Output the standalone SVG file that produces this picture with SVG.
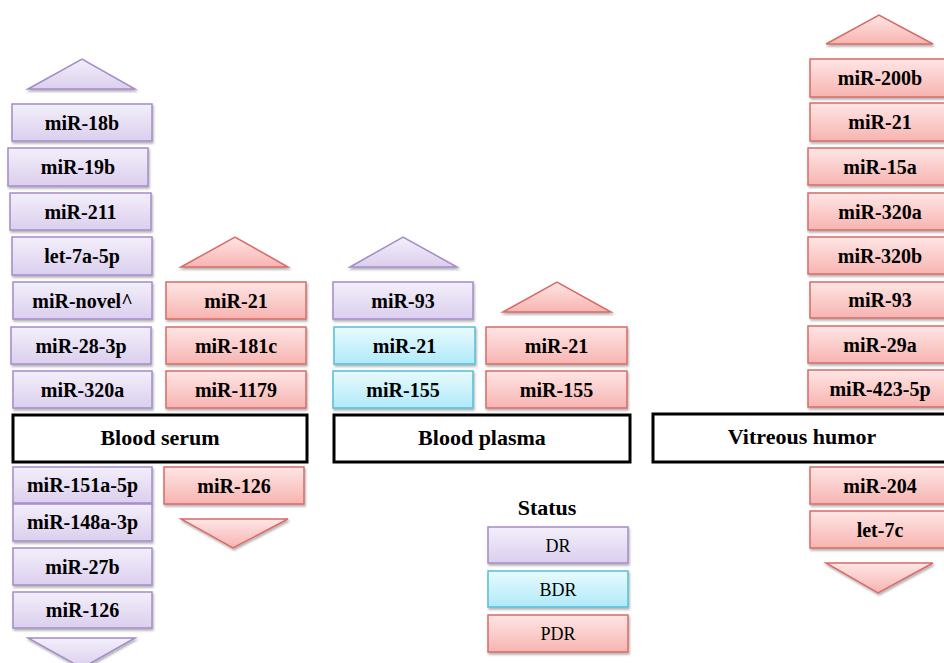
<svg xmlns="http://www.w3.org/2000/svg" width="944" height="663" viewBox="0 0 944 663">
<defs>
<linearGradient id="gP" x1="0" y1="0" x2="0" y2="1"><stop offset="0" stop-color="#f3effa"/><stop offset="1" stop-color="#dbcfee"/></linearGradient>
<linearGradient id="gR" x1="0" y1="0" x2="0" y2="1"><stop offset="0" stop-color="#fee6e5"/><stop offset="1" stop-color="#f7b4b1"/></linearGradient>
<linearGradient id="gC" x1="0" y1="0" x2="0" y2="1"><stop offset="0" stop-color="#e8fafe"/><stop offset="1" stop-color="#b0eaf9"/></linearGradient>
<filter id="sh" x="-10%" y="-20%" width="130%" height="160%"><feDropShadow dx="1" dy="2" stdDeviation="1.2" flood-color="#000" flood-opacity="0.3"/></filter>
</defs>
<style>
.p{fill:url(#gP);stroke:#a48bc9;stroke-width:1.5;filter:url(#sh)}
.r{fill:url(#gR);stroke:#d96b66;stroke-width:1.5;filter:url(#sh)}
.c{fill:url(#gC);stroke:#55bed8;stroke-width:1.5;filter:url(#sh)}
.b{fill:#fff;stroke:#000;stroke-width:3}
.t{font-family:"Liberation Serif","Times New Roman",serif;font-weight:bold;font-size:20px;text-anchor:middle;fill:#000}
.h{font-family:"Liberation Serif","Times New Roman",serif;font-weight:bold;font-size:22px;text-anchor:middle;fill:#000}
.l{font-family:"Liberation Serif","Times New Roman",serif;font-size:18px;text-anchor:middle;fill:#000}
</style>
<rect width="944" height="663" fill="#fff"/>
<g id="connectors"/>

<!-- Blood serum DR up -->
<g id="serum-dr-up"><polygon class="p" points="28,89 82,59 135,89"/></g>
<g id="s-mir18b"><rect class="p" x="12" y="104" width="140" height="37"/><text class="t" x="82" y="130">miR-18b</text></g>
<g id="s-mir19b"><rect class="p" x="8" y="148" width="140" height="38"/><text class="t" x="78" y="174">miR-19b</text></g>
<g id="s-mir211"><rect class="p" x="10" y="193" width="141" height="37"/><text class="t" x="80.5" y="219">miR-211</text></g>
<g id="s-let7a5p"><rect class="p" x="12" y="237" width="140" height="38"/><text class="t" x="82" y="263">let-7a-5p</text></g>
<g id="s-mirnovel"><rect class="p" x="13" y="282" width="139" height="37"/><text class="t" x="82.5" y="308">miR-novel^</text></g>
<g id="s-mir283p"><rect class="p" x="11" y="327" width="140" height="37"/><text class="t" x="81" y="353">miR-28-3p</text></g>
<g id="s-mir320a"><rect class="p" x="13" y="371" width="139" height="37"/><text class="t" x="82.5" y="397">miR-320a</text></g>

<!-- Blood serum PDR up -->
<g id="serum-pdr-up"><polygon class="r" points="181,267 235,237 288,267"/></g>
<g id="s-mir21"><rect class="r" x="166" y="282" width="140" height="37"/><text class="t" x="236" y="308">miR-21</text></g>
<g id="s-mir181c"><rect class="r" x="166" y="327" width="140" height="37"/><text class="t" x="236" y="353">miR-181c</text></g>
<g id="s-mir1179"><rect class="r" x="166" y="371" width="140" height="37"/><text class="t" x="236" y="397">miR-1179</text></g>

<g id="blood-serum"><rect class="b" x="13" y="415" width="294" height="47"/><text class="h" x="160" y="445">Blood serum</text></g>

<!-- Blood serum DR down -->
<g id="s-mir151a5p"><rect class="p" x="13" y="467" width="139" height="36"/><text class="t" x="82.5" y="492">miR-151a-5p</text></g>
<g id="s-mir148a3p"><rect class="p" x="13" y="504" width="139" height="37"/><text class="t" x="82.5" y="529">miR-148a-3p</text></g>
<g id="s-mir27b"><rect class="p" x="13" y="548" width="139" height="37"/><text class="t" x="82.5" y="574">miR-27b</text></g>
<g id="s-mir126"><rect class="p" x="13" y="592" width="139" height="36"/><text class="t" x="82.5" y="617">miR-126</text></g>
<g id="serum-dr-down"><polygon class="p" points="28,638 135,638 82,668"/></g>

<!-- Blood serum PDR down -->
<g id="s-mir126-pdr"><rect class="r" x="164" y="467" width="140" height="37"/><text class="t" x="234" y="493">miR-126</text></g>
<g id="serum-pdr-down"><polygon class="r" points="181,519 288,519 233,548"/></g>

<!-- Blood plasma -->
<g id="plasma-dr-up"><polygon class="p" points="350,267 403,237 457,267"/></g>
<g id="p-mir93"><rect class="p" x="333" y="282" width="140" height="37"/><text class="t" x="403" y="308">miR-93</text></g>
<g id="p-mir21-bdr"><rect class="c" x="334" y="327" width="141" height="37"/><text class="t" x="404.5" y="353">miR-21</text></g>
<g id="p-mir155-bdr"><rect class="c" x="333" y="371" width="140" height="37"/><text class="t" x="403" y="397">miR-155</text></g>
<g id="plasma-pdr-up"><polygon class="r" points="503,312 557,282 611,312"/></g>
<g id="p-mir21-pdr"><rect class="r" x="486" y="327" width="141" height="37"/><text class="t" x="556.5" y="353">miR-21</text></g>
<g id="p-mir155-pdr"><rect class="r" x="486" y="371" width="141" height="37"/><text class="t" x="556.5" y="397">miR-155</text></g>
<g id="blood-plasma"><rect class="b" x="334" y="415" width="296" height="47"/><text class="h" x="482" y="445">Blood plasma</text></g>

<!-- Legend -->
<g id="legend">
<text class="h" x="547" y="515">Status</text>
<g id="legend-dr"><rect class="p" x="488" y="527" width="140" height="36"/><text class="l" x="558" y="552">DR</text></g>
<g id="legend-bdr"><rect class="c" x="488" y="571" width="140" height="36"/><text class="l" x="558" y="596">BDR</text></g>
<g id="legend-pdr"><rect class="r" x="488" y="615" width="140" height="37"/><text class="l" x="558" y="640">PDR</text></g>
</g>

<!-- Vitreous humor -->
<g id="vitreous-pdr-up"><polygon class="r" points="826,44 879,15 933,44"/></g>
<g id="v-mir200b"><rect class="r" x="810" y="59" width="141" height="38"/><text class="t" x="880" y="85">miR-200b</text></g>
<g id="v-mir21"><rect class="r" x="810" y="103" width="141" height="38"/><text class="t" x="880" y="129">miR-21</text></g>
<g id="v-mir15a"><rect class="r" x="808" y="148" width="142" height="37"/><text class="t" x="880" y="174">miR-15a</text></g>
<g id="v-mir320a"><rect class="r" x="808" y="193" width="142" height="37"/><text class="t" x="880" y="219">miR-320a</text></g>
<g id="v-mir320b"><rect class="r" x="808" y="237" width="142" height="37"/><text class="t" x="880" y="263">miR-320b</text></g>
<g id="v-mir93"><rect class="r" x="810" y="282" width="141" height="36"/><text class="t" x="880" y="307">miR-93</text></g>
<g id="v-mir29a"><rect class="r" x="808" y="326" width="142" height="37"/><text class="t" x="880" y="352">miR-29a</text></g>
<g id="v-mir4235p"><rect class="r" x="808" y="370" width="142" height="37"/><text class="t" x="880" y="396">miR-423-5p</text></g>
<g id="vitreous-humor"><rect class="b" x="653" y="414" width="300" height="48"/><text class="h" x="802" y="444">Vitreous humor</text></g>
<g id="v-mir204"><rect class="r" x="810" y="467" width="141" height="37"/><text class="t" x="880" y="493">miR-204</text></g>
<g id="v-let7c"><rect class="r" x="810" y="511" width="141" height="37"/><text class="t" x="880" y="537">let-7c</text></g>
<g id="vitreous-pdr-down"><polygon class="r" points="826,563 933,563 878,593"/></g>
</svg>
